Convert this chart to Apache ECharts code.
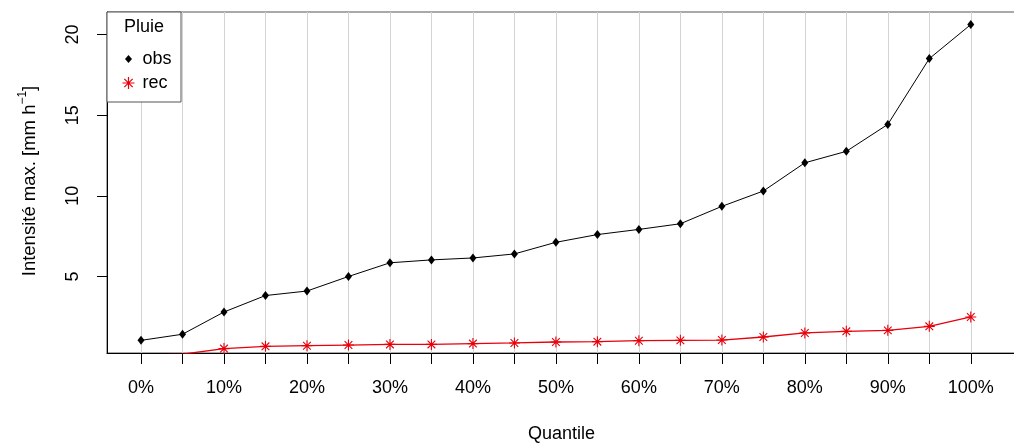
<!DOCTYPE html>
<html>
<head>
<meta charset="utf-8">
<script src="https://cdn.jsdelivr.net/npm/echarts@6/dist/echarts.min.js"></script>
<style>
html, body { margin: 0; padding: 0; background: #fff; }
#chart { width: 1014px; height: 443px; }
</style>
</head>
<body>
<div id="chart"></div>
<script>
// quantiles (%) and max intensity values
const quantiles = [0, 5, 10, 15, 20, 25, 30, 35, 40, 45, 50, 55, 60, 65, 70, 75, 80, 85, 90, 95, 100];
const obs = [1.04, 1.42, 2.8, 3.82, 4.1, 5.0, 5.85, 6.03, 6.15, 6.4, 7.12, 7.6, 7.92, 8.27, 9.35, 10.3, 12.05, 12.76, 14.43, 18.51, 20.62];
const rec = [0.12, 0.18, 0.53, 0.67, 0.71, 0.75, 0.79, 0.79, 0.84, 0.88, 0.94, 0.96, 1.02, 1.04, 1.06, 1.25, 1.5, 1.6, 1.66, 1.91, 2.49];
const xLabels = [0, 10, 20, 30, 40, 50, 60, 70, 80, 90, 100];
const yTicks = [5, 10, 15, 20];

const FONT = '"Liberation Sans", Arial, sans-serif';
const ASTERISK = 'path://M6,0L6,12M0,6L12,6M1.8,1.8L10.2,10.2M1.8,10.2L10.2,1.8';
// diamond inside a 12x12 frame so the legend icon keeps its small size
const DIAMOND_LEG = 'path://M0,0M12,12M6,2L9.5,6L6,10L2.5,6Z';

const chart = echarts.init(document.getElementById('chart'));

const option = {
    animation: false,
    textStyle: { fontFamily: FONT },
    grid: {
        left: 107, right: -2, top: 12, bottom: 90, outerBoundsMode: 'none',
        show: true, borderColor: '#555', borderWidth: 1
    },
    title: {
        text: 'Pluie', left: 124, top: 18, padding: 0,
        textStyle: { fontFamily: FONT, fontSize: 18, fontWeight: 'normal', color: '#000' }
    },
    legend: {
        orient: 'vertical', left: 120, top: 49, padding: 0,
        itemWidth: 12, itemHeight: 12, itemGap: 4,
        textStyle: { fontFamily: FONT, fontSize: 18, color: '#000', lineHeight: 20, padding: [0, 0, 0, 3] },
        data: [
            { name: 'obs', icon: DIAMOND_LEG },
            { name: 'rec', icon: ASTERISK, itemStyle: { borderWidth: 1.2, borderColor: '#e8000b', color: 'none' } }
        ],
        selectedMode: false
    },
    graphic: [
        {
            type: 'rect', z: 3,
            shape: { x: 107, y: 12, width: 74, height: 90 },
            style: { fill: '#fff', stroke: '#555', lineWidth: 1 }
        },
        {
            type: 'text', x: 30, y: 181, rotation: Math.PI / 2,
            style: {
                text: '{a|Intensité max. [mm h}{s|−1}{a|]}',
                align: 'center', verticalAlign: 'middle',
                rich: {
                    a: { fontFamily: FONT, fontSize: 18.5, fill: '#000' },
                    s: { fontFamily: FONT, fontSize: 12, fill: '#000', padding: [0, 0, 14, 0] }
                }
            }
        }
    ],
    xAxis: {
        type: 'value', min: -4.1, max: 105.45,
        name: 'Quantile', nameLocation: 'middle', nameGap: 72,
        nameTextStyle: { fontFamily: FONT, fontSize: 18, color: '#000' },
        axisLine: { show: true, onZero: false, lineStyle: { color: '#000', width: 1.2 } },
        axisTick: { show: true, length: 11, customValues: quantiles, lineStyle: { color: '#000' } },
        axisLabel: {
            customValues: xLabels, margin: 26, fontSize: 18, color: '#000', fontFamily: FONT,
            formatter: v => v + '%'
        },
        splitLine: { show: true, lineStyle: { color: '#d3d3d3', width: 1 } }
    },
    yAxis: {
        type: 'value', min: 0.257, max: 21.4,
        axisLine: { show: true, onZero: false, lineStyle: { color: '#000', width: 1 } },
        axisTick: { show: true, length: 10, customValues: yTicks, lineStyle: { color: '#000' } },
        axisLabel: {
            customValues: yTicks, rotate: 90, margin: 25, fontSize: 18, color: '#000', fontFamily: FONT
        },
        splitLine: { show: false }
    },
    series: [
        {
            name: 'obs', type: 'line',
            data: quantiles.map((q, i) => [q, obs[i]]),
            symbol: 'diamond', symbolSize: [7, 9],
            itemStyle: { color: '#000' },
            lineStyle: { color: '#000', width: 1 },
            emphasis: { disabled: true }
        },
        {
            name: 'rec', type: 'line',
            data: quantiles.map((q, i) => [q, rec[i]]),
            symbol: ASTERISK, symbolSize: 11,
            itemStyle: { color: 'none', borderColor: '#e8000b', borderWidth: 1.1 },
            lineStyle: { color: '#e8000b', width: 1.3 },
            emphasis: { disabled: true }
        }
    ]
};

chart.setOption(option);
</script>
</body>
</html>
